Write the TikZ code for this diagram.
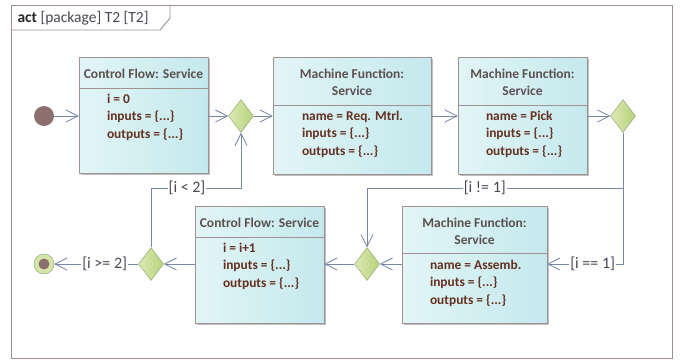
\documentclass[tikz,border=0pt]{standalone}
\usepackage{fontspec}
\setmainfont{Carlito}
\usetikzlibrary{arrows.meta,shapes.geometric,shadows}
\definecolor{framecol}{RGB}{158,143,143}
\definecolor{boxline}{RGB}{160,146,146}
\definecolor{boxleft}{RGB}{226,245,246}
\definecolor{boxright}{RGB}{196,233,237}
\definecolor{hdrcol}{RGB}{92,80,80}
\definecolor{attrcol}{RGB}{100,48,32}
\definecolor{flowcol}{RGB}{120,135,168}
\definecolor{guardcol}{RGB}{72,72,84}
\definecolor{decleft}{RGB}{220,234,180}
\definecolor{decright}{RGB}{182,210,122}
\definecolor{decline}{RGB}{143,157,108}
\definecolor{startcol}{RGB}{140,112,112}

\begin{document}
\begin{tikzpicture}[x=1pt,y=-1pt,
    svc/.style={draw=boxline, left color=boxleft, right color=boxright, inner sep=0pt,
        drop shadow={shadow xshift=2pt, shadow yshift=-2pt, fill=black, opacity=0.25}},
    hdr/.style={font=\fontsize{13.5}{17}\selectfont\bfseries, text=hdrcol, align=center},
    attr/.style={font=\fontsize{13.4}{17.5}\selectfont\bfseries, text=attrcol, align=left,
        anchor=north west, inner sep=0pt},
    dec/.style={diamond, draw=decline, left color=decleft, right color=decright,
        minimum width=25pt, minimum height=33pt, inner sep=0pt, aspect=0.75},
    flow/.style={draw=flowcol, line width=0.8pt, -{Straight Barb[length=12pt,width=12pt]}},
    guard/.style={font=\fontsize{16}{18}\selectfont, text=guardcol, fill=white, inner sep=1pt}]
    \useasboundingbox (0,0) rectangle (680,360);

    % frame
    \draw [framecol, line width=0.9pt] (11,5) rectangle (672,358);
    \draw [framecol, line width=0.9pt] (11,30) -- (160,30) -- (170,18) -- (170,5);
    \node [anchor=west, font=\fontsize{15.5}{17}\selectfont, text=guardcol] (title) at (14,18)
        {\textcolor{black!85}{\textbf{act}} [package] T2 [T2]};

    % start / end
    \node [circle, fill=startcol, minimum size=20pt, inner sep=0pt] (start) at (44,116) {};
    \node [circle, draw=decline, fill=decleft!80!decright, minimum size=20pt, inner sep=0pt] (stop) at (44,264) {};
    \fill [startcol] (stop) circle (5.5);

    % services
    \node [svc, minimum width=129pt, minimum height=116pt] (cf1) at (143.5,115) {};
    \node [svc, minimum width=158pt, minimum height=117pt] (req) at (352,115.5) {};
    \node [svc, minimum width=129pt, minimum height=117pt] (pick) at (522.5,115.5) {};
    \node [svc, minimum width=145pt, minimum height=117pt] (asm) at (474.5,264.5) {};
    \node [svc, minimum width=129pt, minimum height=117pt] (cf2) at (259.5,264.5) {};

    % headers
    \node [hdr] at ([yshift=-17pt]cf1.north) {Control Flow: Service};
    \node [hdr] at ([yshift=-25pt]req.north) {Machine Function:\\Service};
    \node [hdr] at ([yshift=-25pt]pick.north) {Machine Function:\\Service};
    \node [hdr] at ([yshift=-25pt]asm.north) {Machine Function:\\Service};
    \node [hdr] at ([yshift=-17pt]cf2.north) {Control Flow: Service};
    \draw [boxline] ([yshift=-31pt]cf1.north west) -- ([yshift=-31pt]cf1.north east);
    \draw [boxline] ([yshift=-48pt]req.north west) -- ([yshift=-48pt]req.north east);
    \draw [boxline] ([yshift=-48pt]pick.north west) -- ([yshift=-48pt]pick.north east);
    \draw [boxline] ([yshift=-47pt]asm.north west) -- ([yshift=-47pt]asm.north east);
    \draw [boxline] ([yshift=-31pt]cf2.north west) -- ([yshift=-31pt]cf2.north east);

    % attributes
    \node [attr] at ([xshift=28pt,yshift=-37pt]cf1.north west) {i = 0\\inputs = \{...\}\\outputs = \{...\}};
    \node [attr] at ([xshift=29pt,yshift=-54pt]req.north west) {name = Req. Mtrl.\\inputs = \{...\}\\outputs = \{...\}};
    \node [attr] at ([xshift=28pt,yshift=-54pt]pick.north west) {name = Pick\\inputs = \{...\}\\outputs = \{...\}};
    \node [attr] at ([xshift=28pt,yshift=-54pt]asm.north west) {name = Assemb.\\inputs = \{...\}\\outputs = \{...\}};
    \node [attr] at ([xshift=28pt,yshift=-37pt]cf2.north west) {i = i+1\\inputs = \{...\}\\outputs = \{...\}};

    % decisions
    \node [dec] (d1) at (241,116) {};
    \node [dec] (d2) at (623,116) {};
    \node [dec] (d3) at (367,264) {};
    \node [dec] (d4) at (151,264) {};
    \coordinate (jn) at (623,188);
    \coordinate (lp) at (241,188);

    % flows
    \draw [flow] (start) -- (cf1.west |- start);
    \draw [flow] (cf1.east |- d1) -- (d1);
    \draw [flow] (d1) -- (req.west |- d1);
    \draw [flow] (req.east |- d1) -- (pick.west |- d1);
    \draw [flow] (pick.east |- d2) -- (d2);
    \draw [flow] (d2.south) |- node [guard, pos=0.7] {[i == 1]} (asm.east |- d3);
    \draw [flow] (d2.south) -- (jn) -| node [guard, pos=0.27] {[i != 1]} (d3.north);
    \draw [flow] (asm.west |- d3) -- (d3);
    \draw [flow] (d3) -- (cf2.east |- d3);
    \draw [flow] (cf2.west |- d4) -- (d4);
    \draw [flow] (d4) -- node [guard, pos=0.4] {[i >= 2]} (stop);
    \draw [flow] (d4.north) |- node [guard, pos=0.7] {[i < 2]} (lp) -- (d1.south);
\end{tikzpicture}
\end{document}
